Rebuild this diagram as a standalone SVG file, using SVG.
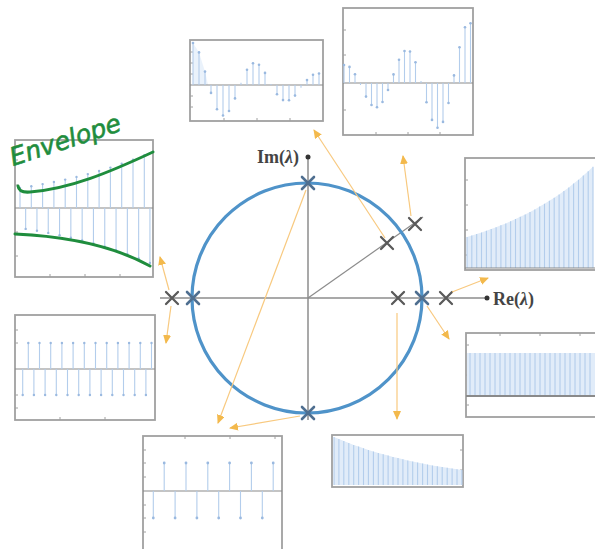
<svg xmlns="http://www.w3.org/2000/svg" width="595" height="549" viewBox="0 0 595 549">
<style>
.frame{fill:#ffffff;stroke:#a0a0a0;stroke-width:1.8}
.tick{stroke:#a0a0a0;stroke-width:1;fill:none}
.zero{stroke:#8a8a8a;stroke-width:1.2}
.stem{stroke:#b3cdec;stroke-width:1.1;fill:none}
.area{fill:#e1ecf9;stroke:none}
.tip{fill:#9ab9e0}
.axis{stroke:#8c8c8c;stroke-width:1.5;fill:none}
.circ{fill:none;stroke:#4f93c9;stroke-width:3.2}
.xm{stroke:#5a5a5a;stroke-width:2.3;fill:none;stroke-linecap:round}
.xc{stroke:#4f6f90;stroke-width:2.6;fill:none;stroke-linecap:round}
.arr{stroke:#f8c97f;stroke-width:1.2;fill:none}
.lbl{font-family:"Liberation Serif",serif;font-size:18px;font-weight:bold;fill:#444444}
.green{stroke:#1f8d3d;stroke-width:3;fill:none;stroke-linecap:round}
.hand{font-family:"DejaVu Sans","Liberation Sans",sans-serif;font-size:25px;font-style:italic;fill:#1f8d3d;stroke:#1f8d3d;stroke-width:0.6}
</style>
<defs>
<marker id="ah" markerUnits="userSpaceOnUse" markerWidth="10" markerHeight="10" refX="8" refY="4" orient="auto">
<path d="M0 0 L9 4 L0 8 Z" fill="#f3b94c"/>
</marker>
</defs>

<g id="panel-damped">
<rect class="frame" x="190" y="40" width="133" height="81"/>
<path class="tick" d="M190 52h3M190 63h3M190 74h3M190 96h3M190 107h3M224 121v-3M257 121v-3M290 121v-3"/>
<polygon class="area" opacity="0.7" points="193,85 193,43 199,52.4 205,71.6 208,85"/>
<line class="zero" x1="190" y1="85" x2="323" y2="85"/>
<path class="stem" d="M193 85V43M199 85V52.4M205 85V71.6M211 85V92.9M217 85V109.2M223 85V115.5M229 85V111M235 85V98.4M241 85V82.7M247 85V69.7M253 85V63.3M259 85V64.8M265 85V72.9M271 85V84M277 85V94.2M283 85V100.1M289 85V100.3M295 85V95.6M301 85V87.7M307 85V80.1M313 85V74.7M319 85V73.5"/>
<g class="tip"><circle cx="193" cy="43" r="1.3"/><circle cx="199" cy="52.4" r="1.3"/><circle cx="205" cy="71.6" r="1.3"/><circle cx="211" cy="92.9" r="1.3"/><circle cx="217" cy="109.2" r="1.3"/><circle cx="223" cy="115.5" r="1.3"/><circle cx="229" cy="111" r="1.3"/><circle cx="235" cy="98.4" r="1.3"/><circle cx="247" cy="69.7" r="1.3"/><circle cx="253" cy="63.3" r="1.3"/><circle cx="259" cy="64.8" r="1.3"/><circle cx="265" cy="72.9" r="1.3"/><circle cx="277" cy="94.2" r="1.3"/><circle cx="283" cy="100.1" r="1.3"/><circle cx="289" cy="100.3" r="1.3"/><circle cx="295" cy="95.6" r="1.3"/><circle cx="307" cy="80.1" r="1.3"/><circle cx="313" cy="74.7" r="1.3"/><circle cx="319" cy="73.5" r="1.3"/></g>
</g>

<g id="panel-growing-osc">
<rect class="frame" x="343" y="8" width="130" height="127"/>
<path class="tick" d="M343 30h3M343 55h3M343 110h3M376 135v-3M408 135v-3M440 135v-3"/>
<line class="zero" x1="343" y1="83" x2="473" y2="83"/>
<path class="stem" d="M344 83V65M349.5 83V66.9M355 83V74.2M360.5 83V85.1M366 83V96.6M371.5 83V105M377 83V107.3M382.5 83V102M388 83V90M393.5 83V74.4M399 83V59.8M404.5 83V51M410 83V51.5M415.5 83V62.2M421 83V80.9M426.5 83V102.3M432 83V119.9M437.5 83V127.7M443 83V121.9M448.5 83V103M454 83V75.4M459.5 83V47.2M465 83V27.3M470.5 83V23.2"/>
<g class="tip"><circle cx="344" cy="65" r="1.3"/><circle cx="349.5" cy="66.9" r="1.3"/><circle cx="355" cy="74.2" r="1.3"/><circle cx="366" cy="96.6" r="1.3"/><circle cx="371.5" cy="105" r="1.3"/><circle cx="377" cy="107.3" r="1.3"/><circle cx="382.5" cy="102" r="1.3"/><circle cx="388" cy="90" r="1.3"/><circle cx="393.5" cy="74.4" r="1.3"/><circle cx="399" cy="59.8" r="1.3"/><circle cx="404.5" cy="51" r="1.3"/><circle cx="410" cy="51.5" r="1.3"/><circle cx="415.5" cy="62.2" r="1.3"/><circle cx="426.5" cy="102.3" r="1.3"/><circle cx="432" cy="119.9" r="1.3"/><circle cx="437.5" cy="127.7" r="1.3"/><circle cx="443" cy="121.9" r="1.3"/><circle cx="448.5" cy="103" r="1.3"/><circle cx="454" cy="75.4" r="1.3"/><circle cx="459.5" cy="47.2" r="1.3"/><circle cx="465" cy="27.3" r="1.3"/><circle cx="470.5" cy="23.2" r="1.3"/></g>
</g>

<g id="panel-envelope">
<rect class="frame" x="15" y="140" width="138" height="137"/>
<path class="tick" d="M15 160h3M15 185h3M15 232h3M15 256h3M50 277v-3M85 277v-3M120 277v-3"/>
<line class="zero" x1="15" y1="208" x2="153" y2="208"/>
<path class="stem" d="M20 208V188M25.65 208V228.9M31.3 208V186.2M36.95 208V230.8M42.6 208V184.1M48.25 208V232.9M53.9 208V182M59.55 208V235.2M65.2 208V179.6M70.85 208V237.7M76.5 208V176.9M82.15 208V240.5M87.8 208V174.1M93.45 208V243.4M99.1 208V171M104.75 208V246.7M110.4 208V167.6M116.05 208V250.3M121.7 208V163.8M127.35 208V254.2M133 208V159.8M138.65 208V258.4M144.3 208V155.3M149.95 208V263"/>
<g class="tip"><circle cx="20" cy="188" r="1.2"/><circle cx="25.65" cy="228.9" r="1.2"/><circle cx="31.3" cy="186.2" r="1.2"/><circle cx="36.95" cy="230.8" r="1.2"/><circle cx="42.6" cy="184.1" r="1.2"/><circle cx="48.25" cy="232.9" r="1.2"/><circle cx="53.9" cy="182" r="1.2"/><circle cx="59.55" cy="235.2" r="1.2"/><circle cx="65.2" cy="179.6" r="1.2"/><circle cx="70.85" cy="237.7" r="1.2"/><circle cx="76.5" cy="176.9" r="1.2"/><circle cx="82.15" cy="240.5" r="1.2"/><circle cx="87.8" cy="174.1" r="1.2"/><circle cx="93.45" cy="243.4" r="1.2"/><circle cx="99.1" cy="171" r="1.2"/><circle cx="104.75" cy="246.7" r="1.2"/><circle cx="110.4" cy="167.6" r="1.2"/><circle cx="116.05" cy="250.3" r="1.2"/><circle cx="121.7" cy="163.8" r="1.2"/><circle cx="127.35" cy="254.2" r="1.2"/><circle cx="133" cy="159.8" r="1.2"/><circle cx="138.65" cy="258.4" r="1.2"/><circle cx="144.3" cy="155.3" r="1.2"/><circle cx="149.95" cy="263" r="1.2"/></g>
<path class="green" d="M18 186 Q19 193 30 192 C70 189 110 172 153 152"/>
<path class="green" d="M15 234 C60 236 110 244 150 266"/>
<text class="hand" transform="translate(13 166) rotate(-18)">Envelope</text>
</g>

<g id="panel-exp-growth">
<rect class="frame" x="465" y="158" width="140" height="112"/>
<path class="tick" d="M465 180h3M465 205h3M465 230h3M465 255h3"/>
<polygon class="area" points="467,268 467,237 471.8,235.6 476.7,234.1 481.5,232.5 486.4,230.8 491.2,229.1 496.1,227.2 500.9,225.3 505.8,223.4 510.6,221.3 515.5,219.1 520.3,216.8 525.2,214.5 530,212 534.8,209.4 539.7,206.6 544.5,203.8 549.4,200.8 554.2,197.7 559.1,194.4 563.9,191 568.8,187.4 573.6,183.6 578.5,179.7 583.3,175.6 588.2,171.3 593,166.8 593,268"/>
<path class="stem" d="M467 268V237M471.8 268V235.6M476.7 268V234.1M481.5 268V232.5M486.4 268V230.8M491.2 268V229.1M496.1 268V227.2M500.9 268V225.3M505.8 268V223.4M510.6 268V221.3M515.5 268V219.1M520.3 268V216.8M525.2 268V214.5M530 268V212M534.8 268V209.4M539.7 268V206.6M544.5 268V203.8M549.4 268V200.8M554.2 268V197.7M559.1 268V194.4M563.9 268V191M568.8 268V187.4M573.6 268V183.6M578.5 268V179.7M583.3 268V175.6M588.2 268V171.3M593 268V166.8"/>
<line class="zero" x1="465" y1="268" x2="595" y2="268"/>
</g>

<g id="panel-alternating">
<rect class="frame" x="15" y="315" width="140" height="105"/>
<path class="tick" d="M15 330h3M15 343h3M15 395h3M15 408h3M60 420v-3M105 420v-3"/>
<line class="zero" x1="15" y1="369" x2="155" y2="369"/>
<path class="stem" d="M22.7 369V395M28.3 369V343M33.9 369V395M39.5 369V343M45.1 369V395M50.7 369V343M56.3 369V395M61.9 369V343M67.5 369V395M73.1 369V343M78.7 369V395M84.3 369V343M89.9 369V395M95.5 369V343M101.1 369V395M106.7 369V343M112.3 369V395M117.9 369V343M123.5 369V395M129.1 369V343M134.7 369V395M140.3 369V343M145.9 369V395M151.5 369V343"/>
<g class="tip"><circle cx="22.7" cy="395" r="1.2"/><circle cx="28.3" cy="343" r="1.2"/><circle cx="33.9" cy="395" r="1.2"/><circle cx="39.5" cy="343" r="1.2"/><circle cx="45.1" cy="395" r="1.2"/><circle cx="50.7" cy="343" r="1.2"/><circle cx="56.3" cy="395" r="1.2"/><circle cx="61.9" cy="343" r="1.2"/><circle cx="67.5" cy="395" r="1.2"/><circle cx="73.1" cy="343" r="1.2"/><circle cx="78.7" cy="395" r="1.2"/><circle cx="84.3" cy="343" r="1.2"/><circle cx="89.9" cy="395" r="1.2"/><circle cx="95.5" cy="343" r="1.2"/><circle cx="101.1" cy="395" r="1.2"/><circle cx="106.7" cy="343" r="1.2"/><circle cx="112.3" cy="395" r="1.2"/><circle cx="117.9" cy="343" r="1.2"/><circle cx="123.5" cy="395" r="1.2"/><circle cx="129.1" cy="343" r="1.2"/><circle cx="134.7" cy="395" r="1.2"/><circle cx="140.3" cy="343" r="1.2"/><circle cx="145.9" cy="395" r="1.2"/><circle cx="151.5" cy="343" r="1.2"/></g>
</g>

<g id="panel-constant">
<rect class="frame" x="466" y="333" width="140" height="84"/>
<path class="tick" d="M466 345h3M466 375h3M466 405h3M500 333v3M540 333v3M580 333v3"/>
<rect class="area" x="467" y="353" width="128" height="43"/>
<path class="stem" d="M470 396V353M475 396V353M480 396V353M485 396V353M490 396V353M495 396V353M500 396V353M505 396V353M510 396V353M515 396V353M520 396V353M525 396V353M530 396V353M535 396V353M540 396V353M545 396V353M550 396V353M555 396V353M560 396V353M565 396V353M570 396V353M575 396V353M580 396V353M585 396V353M590 396V353"/>
<line x1="466" y1="396" x2="595" y2="396" stroke="#8a8a8a" stroke-width="1.8"/>
</g>

<g id="panel-period4">
<rect class="frame" x="143" y="436" width="139" height="120"/>
<path class="tick" d="M143 450h3M143 463h3M143 477h3M143 505h3M143 518h3M143 532h3M185 436v3M230 436v3M275 436v3"/>
<line class="zero" x1="143" y1="491" x2="282" y2="491"/>
<path class="stem" d="M153.3 491V518M164.2 491V463M175.1 491V518M186 491V463M196.9 491V518M207.8 491V463M218.7 491V518M229.6 491V463M240.5 491V518M251.4 491V463M262.3 491V518M273.2 491V463"/>
<g class="tip"><circle cx="153.3" cy="518" r="1.4"/><circle cx="164.2" cy="463" r="1.4"/><circle cx="175.1" cy="518" r="1.4"/><circle cx="186" cy="463" r="1.4"/><circle cx="196.9" cy="518" r="1.4"/><circle cx="207.8" cy="463" r="1.4"/><circle cx="218.7" cy="518" r="1.4"/><circle cx="229.6" cy="463" r="1.4"/><circle cx="240.5" cy="518" r="1.4"/><circle cx="251.4" cy="463" r="1.4"/><circle cx="262.3" cy="518" r="1.4"/><circle cx="273.2" cy="463" r="1.4"/></g>
</g>

<g id="panel-decay">
<rect class="frame" x="332" y="435" width="131" height="52"/>
<path class="tick" d="M463 450h-3M463 470h-3"/>
<polygon class="area" points="334,485 334,437 338.9,439.1 343.8,441.1 348.8,443 353.7,444.9 358.6,446.6 363.5,448.3 368.4,449.9 373.4,451.4 378.3,452.9 383.2,454.3 388.1,455.6 393,456.9 398,458.1 402.9,459.3 407.8,460.4 412.7,461.5 417.6,462.5 422.6,463.5 427.5,464.5 432.4,465.4 437.3,466.2 442.2,467 447.2,467.8 452.1,468.6 457,469.3 461.9,470 461.9,485"/>
<path class="stem" d="M334 485V437M338.9 485V439.1M343.8 485V441.1M348.8 485V443M353.7 485V444.9M358.6 485V446.6M363.5 485V448.3M368.4 485V449.9M373.4 485V451.4M378.3 485V452.9M383.2 485V454.3M388.1 485V455.6M393 485V456.9M398 485V458.1M402.9 485V459.3M407.8 485V460.4M412.7 485V461.5M417.6 485V462.5M422.6 485V463.5M427.5 485V464.5M432.4 485V465.4M437.3 485V466.2M442.2 485V467M447.2 485V467.8M452.1 485V468.6M457 485V469.3M461.9 485V470"/>
</g>

<g id="complex-plane">
<line class="axis" x1="160" y1="298" x2="487" y2="298"/>
<line class="axis" x1="308" y1="157" x2="308" y2="420"/>
<circle cx="487" cy="298" r="2.5" fill="#333"/>
<circle cx="308" cy="157" r="2.5" fill="#333"/>
<line x1="308" y1="298" x2="423" y2="217" stroke="#8c8c8c" stroke-width="1.2"/>
<circle class="circ" cx="307" cy="298" r="115"/>
<text class="lbl" x="299" y="163" text-anchor="end">Im(<tspan font-style="italic">λ</tspan>)</text>
<text class="lbl" x="493" y="305">Re(<tspan font-style="italic">λ</tspan>)</text>
</g>

<g id="eigenvalues">
<path class="xm" d="M166 292l12 12M178 292l-12 12"/>
<path class="xc" d="M187 292l12 12M199 292l-12 12"/>
<path class="xm" d="M392 292l12 12M404 292l-12 12"/>
<path class="xc" d="M416 292l12 12M428 292l-12 12"/>
<path class="xm" d="M440 292l12 12M452 292l-12 12"/>
<path class="xc" d="M302 177l12 12M314 177l-12 12"/>
<path class="xc" d="M302 407l12 12M314 407l-12 12"/>
<path class="xm" d="M381 237l12 12M393 237l-12 12"/>
<path class="xm" d="M409 218l12 12M421 218l-12 12"/>
</g>

<g id="connectors">
<line class="arr" x1="306" y1="190" x2="218" y2="423" marker-end="url(#ah)"/>
<line class="arr" x1="300" y1="416" x2="230" y2="428" marker-end="url(#ah)"/>
<line class="arr" x1="385" y1="238" x2="314" y2="130" marker-end="url(#ah)"/>
<line class="arr" x1="411" y1="216" x2="403" y2="156" marker-end="url(#ah)"/>
<line class="arr" x1="452" y1="292" x2="488" y2="278" marker-end="url(#ah)"/>
<line class="arr" x1="427" y1="306" x2="449" y2="339" marker-end="url(#ah)"/>
<line class="arr" x1="397" y1="313" x2="397" y2="419" marker-end="url(#ah)"/>
<line class="arr" x1="169" y1="290" x2="160" y2="257" marker-end="url(#ah)"/>
<line class="arr" x1="171" y1="306" x2="166" y2="343" marker-end="url(#ah)"/>
</g>
</svg>
